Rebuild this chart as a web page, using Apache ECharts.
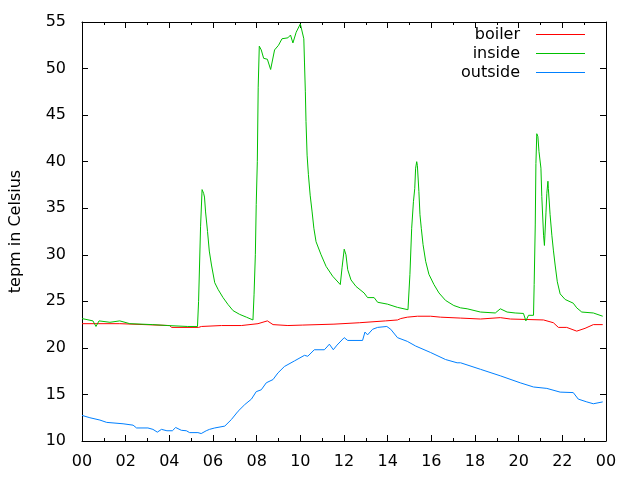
<!DOCTYPE html>
<html><head><meta charset="utf-8">
<script src="https://cdn.jsdelivr.net/npm/echarts@6/dist/echarts.min.js"></script>
<style>html,body{margin:0;padding:0;background:#fff}#c{width:640px;height:480px}</style>
</head><body><div id="c"></div>
<script>
const seriesNames = ['boiler', 'inside', 'outside'];
const seriesColors = ['#ff0000', '#00c000', '#0080ff'];
const yAxisTitle = 'tepm in Celsius';
const xTickLabels = ['00','02','04','06','08','10','12','14','16','18','20','22','00'];

const boilerHours = [0,1.73,1.82,4.01,4.11,5.34,5.47,6.39,7.30,8.06,8.49,8.75,9.43,10.11,11.54,12.70,13.91,14.45,14.60,14.90,15.36,15.97,16.42,17.34,18.25,19.16,19.62,21.14,21.59,21.82,22.20,22.66,23.04,23.42,23.85];
const boilerTemps = [22.6,22.6,22.4,22.4,22.2,22.2,22.3,22.4,22.4,22.6,22.9,22.5,22.4,22.45,22.55,22.7,22.9,23.0,23.15,23.3,23.4,23.4,23.3,23.2,23.1,23.25,23.1,23.0,22.7,22.2,22.2,21.8,22.1,22.5,22.5];

const insideHours = [0,0.50,0.64,0.78,1.28,1.73,2.19,3.24,3.92,4.84,5.29,5.34,5.43,5.50,5.57,5.61,5.66,5.75,5.83,5.93,6.08,6.24,6.46,6.69,6.92,7.22,7.53,7.83,7.88,7.94,7.98,8.03,8.07,8.12,8.21,8.32,8.49,8.64,8.82,9.00,9.16,9.43,9.55,9.66,9.81,10.00,10.16,10.19,10.23,10.26,10.31,10.37,10.45,10.54,10.62,10.72,10.95,11.18,11.48,11.83,11.91,12.01,12.09,12.17,12.32,12.55,12.92,13.08,13.38,13.54,13.99,14.45,14.93,15.02,15.10,15.18,15.24,15.28,15.33,15.36,15.43,15.48,15.54,15.62,15.74,15.89,16.12,16.35,16.65,17.03,17.34,17.64,18.25,18.93,19.16,19.47,19.84,20.22,20.33,20.45,20.68,20.71,20.76,20.79,20.83,20.88,20.93,21.02,21.06,21.14,21.18,21.25,21.29,21.34,21.36,21.44,21.52,21.59,21.67,21.77,21.90,22.13,22.50,22.66,22.89,23.42,23.85];
const insideTemps = [23.15,22.9,22.3,22.9,22.75,22.9,22.6,22.5,22.4,22.3,22.3,25.0,33.0,37.0,36.6,36.2,34.6,32.5,30.4,28.9,27.0,26.25,25.4,24.65,24.0,23.6,23.3,23.0,25.7,30.0,35.4,40.0,48.0,52.4,52.0,51.1,51.0,49.9,52.0,52.5,53.2,53.3,53.6,52.75,53.9,54.8,53.2,50.7,47.5,44.3,40.7,38.6,36.4,34.6,32.85,31.4,30.0,28.75,27.7,26.8,28.6,30.6,30.0,28.4,27.3,26.6,25.9,25.4,25.4,24.9,24.7,24.35,24.1,27.9,32.85,35.7,37.1,39.3,40.0,39.6,36.8,34.3,32.85,31.1,29.3,27.9,26.8,25.9,25.1,24.55,24.3,24.2,23.85,23.75,24.2,23.85,23.75,23.7,22.9,23.5,23.5,26.8,33.2,39.8,43.0,42.7,41.1,39.3,36.25,32.1,31.0,34.5,36.6,37.9,37.1,34.3,32.1,30.5,28.9,27.1,25.8,25.2,24.8,24.3,23.85,23.75,23.4];

const outsideHours = [0,0.36,0.82,1.13,1.88,2.34,2.50,3.02,3.25,3.45,3.64,3.89,4.14,4.29,4.55,4.78,4.93,5.31,5.46,5.69,5.84,6.08,6.54,6.84,7.15,7.45,7.76,7.98,8.21,8.44,8.75,8.97,9.27,9.73,10.19,10.34,10.64,11.10,11.22,11.33,11.51,11.68,12.01,12.17,12.85,12.96,13.08,13.31,13.54,13.96,14.14,14.45,14.90,15.28,15.97,16.65,17.18,17.34,18.25,19.16,20.07,20.68,21.29,21.90,22.50,22.73,23.12,23.42,23.85];
const outsideTemps = [12.75,12.5,12.25,12.0,11.85,11.7,11.4,11.4,11.25,10.95,11.25,11.1,11.1,11.45,11.15,11.1,10.9,10.9,10.8,11.1,11.25,11.4,11.6,12.3,13.2,13.9,14.5,15.3,15.5,16.25,16.6,17.3,18.0,18.6,19.2,19.1,19.8,19.8,20.1,20.4,19.8,20.3,21.1,20.8,20.8,21.7,21.4,22.0,22.2,22.3,22.0,21.1,20.7,20.2,19.5,18.75,18.4,18.4,17.7,17.0,16.25,15.8,15.65,15.25,15.2,14.5,14.2,14.0,14.2];

const FONT = 'DejaVu Sans';
const hoursList = [boilerHours, insideHours, outsideHours];
const tempsList = [boilerTemps, insideTemps, outsideTemps];

const chart = echarts.init(document.getElementById('c'), null, {renderer: 'canvas'});

function xAxisDef(pos, showLabel) {
  return {
    type: 'value', position: pos, min: 0, max: 24, interval: 2,
    axisLine: {show: true, onZero: false, lineStyle: {color: '#000', width: 1}},
    axisTick: {show: true, inside: true, length: 6, lineStyle: {color: '#000'}},
    minorTick: {show: true, splitNumber: 2, length: 3, lineStyle: {color: '#000'}},
    splitLine: {show: false},
    axisLabel: {show: showLabel, margin: 13, color: '#000', fontFamily: FONT, fontSize: 16,
      formatter: v => xTickLabels[Math.round(v / 2)]}
  };
}
function yAxisDef(pos, showLabel) {
  const a = {
    type: 'value', position: pos, min: 10, max: 55, interval: 5,
    axisLine: {show: true, onZero: false, lineStyle: {color: '#000', width: 1}},
    axisTick: {show: true, inside: true, length: 6, lineStyle: {color: '#000'}},
    splitLine: {show: false},
    axisLabel: {show: showLabel, margin: 16, color: '#000', fontFamily: FONT, fontSize: 16}
  };
  if (showLabel) {
    a.name = yAxisTitle;
    a.nameLocation = 'middle';
    a.nameGap = 58;
    a.nameRotate = 90;
    a.nameTextStyle = {color: '#000', fontFamily: FONT, fontSize: 16};
  }
  return a;
}

chart.setOption({
  animation: false,
  backgroundColor: '#fff',
  grid: {left: 80, right: 34, top: 22, bottom: 39, containLabel: false},
  xAxis: [xAxisDef('bottom', true), xAxisDef('top', false)],
  yAxis: [yAxisDef('left', true), yAxisDef('right', false)],
  legend: {
    orient: 'vertical', right: 55, top: 25, align: 'right', padding: 0,
    itemWidth: 49, itemHeight: 1, itemGap: 0, icon: 'rect',
    data: seriesNames,
    textStyle: {color: '#000', fontFamily: FONT, fontSize: 16, lineHeight: 19, padding: [0, 11, 0, 0]}
  },
  series: seriesNames.map((n, i) => ({
    name: n, type: 'line', xAxisIndex: 0, yAxisIndex: 0,
    data: hoursList[i].map((h, j) => [h, tempsList[i][j]]),
    symbol: 'none', showSymbol: false,
    color: seriesColors[i],
    lineStyle: {color: seriesColors[i], width: 1},
    itemStyle: {color: seriesColors[i]},
    emphasis: {disabled: true}
  }))
});
</script></body></html>
